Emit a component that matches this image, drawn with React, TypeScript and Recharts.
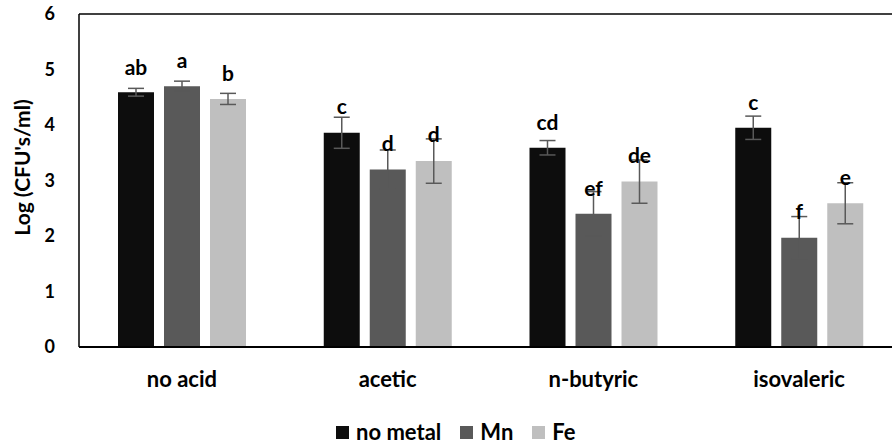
import { BarChart, Bar, XAxis, YAxis, ErrorBar, LabelList, Legend, ReferenceLine } from 'recharts';

const categories = ['no acid', 'acetic', 'n-butyric', 'isovaleric'];

const noMetal = [4.59, 3.86, 3.59, 3.95];
const mn = [4.70, 3.20, 2.40, 1.97];
const fe = [4.47, 3.35, 2.98, 2.59];

const noMetalErr = [0.07, 0.28, 0.13, 0.21];
const mnErr = [0.09, 0.35, 0.4, 0.38];
const feErr = [0.1, 0.4, 0.39, 0.37];

// significance letters and the height (in log units) where each sits
const noMetalLetters = ['ab', 'c', 'cd', 'c'];
const mnLetters = ['a', 'd', 'ef', 'f'];
const feLetters = ['b', 'd', 'de', 'e'];
const noMetalLetterAt = [4.90, 4.20, 3.91, 4.27];
const mnLetterAt = [5.03, 3.53, 2.72, 2.30];
const feLetterAt = [4.79, 3.69, 3.32, 2.91];

const yTicks = [0, 1, 2, 3, 4, 5, 6];

const series = [
    { key: 'noMetal', name: 'no metal', color: '#0d0d0d' },
    { key: 'mn', name: 'Mn', color: '#595959' },
    { key: 'fe', name: 'Fe', color: '#bfbfbf' },
];

const chartData = categories.map((cat, i) => ({
    cat,
    noMetal: noMetal[i],
    mn: mn[i],
    fe: fe[i],
    noMetalErr: noMetalErr[i],
    mnErr: mnErr[i],
    feErr: feErr[i],
}));

const FONT = 'Lato, "Open Sans", sans-serif';

function letterLabel(letters: string[], at: number[]) {
    return (props: any) => {
        const { x, y, width, height, value, index } = props;
        if (!value) return null;
        const pxPerUnit = height / value;
        const ly = y + height - at[index] * pxPerUnit;
        return (
            <text
                x={x + width / 2}
                y={ly}
                textAnchor="middle"
                fontFamily={FONT}
                fontWeight="bold"
                fontSize={21}
                fill="#000"
            >
                {letters[index]}
            </text>
        );
    };
}

function LegendContent() {
    return (
        <div style={{ display: 'flex', alignItems: 'center', fontFamily: FONT, fontWeight: 'bold', fontSize: 22, lineHeight: '22px', color: '#000' }}>
            {series.map((s) => (
                <div key={s.key} style={{ display: 'flex', alignItems: 'center', marginRight: 19 }}>
                    <span style={{ display: 'inline-block', width: 13, height: 13, background: s.color, marginRight: 7 }} />
                    <span>{s.name}</span>
                </div>
            ))}
        </div>
    );
}

export default function App() {
    return (
        <div style={{ position: 'absolute', left: 0, top: 0, width: 892, height: 445, overflow: 'hidden', background: '#fff' }}>
            <BarChart
                width={902}
                height={445}
                data={chartData}
                margin={{ top: 14, right: 0, bottom: 68, left: 0 }}
                barSize={36}
                barGap={10}
            >
                <XAxis
                    dataKey="cat"
                    axisLine={{ stroke: '#000', strokeWidth: 2 }}
                    tickLine={false}
                    tickMargin={18}
                    height={30}
                    tick={{ fill: '#000', fontFamily: FONT, fontWeight: 'bold', fontSize: 22 }}
                />
                <YAxis
                    domain={[0, 6]}
                    ticks={yTicks}
                    width={79}
                    axisLine={{ stroke: '#000', strokeWidth: 1.5 }}
                    tickLine={false}
                    tickMargin={18}
                    tick={{ fill: '#000', fontFamily: FONT, fontWeight: 'bold', fontSize: 18 }}
                    label={{
                        value: "Log (CFU's/ml)",
                        angle: -90,
                        position: 'insideLeft',
                        offset: 23,
                        dy: -13,
                        style: { textAnchor: 'middle', fill: '#000', fontFamily: FONT, fontWeight: 'bold', fontSize: 21 },
                    }}
                />
                <ReferenceLine y={6} stroke="#000" strokeWidth={1.5} />
                <Legend
                    verticalAlign="middle"
                    align="center"
                    wrapperStyle={{ top: 421, left: 336 }}
                    content={<LegendContent />}
                />
                <Bar dataKey="noMetal" name="no metal" fill="#0d0d0d" isAnimationActive={false}>
                    <ErrorBar dataKey="noMetalErr" width={8} stroke="#595959" strokeWidth={1.5} />
                    <LabelList dataKey="noMetal" content={letterLabel(noMetalLetters, noMetalLetterAt)} />
                </Bar>
                <Bar dataKey="mn" name="Mn" fill="#595959" isAnimationActive={false}>
                    <ErrorBar dataKey="mnErr" width={8} stroke="#595959" strokeWidth={1.5} />
                    <LabelList dataKey="mn" content={letterLabel(mnLetters, mnLetterAt)} />
                </Bar>
                <Bar dataKey="fe" name="Fe" fill="#bfbfbf" isAnimationActive={false}>
                    <ErrorBar dataKey="feErr" width={8} stroke="#595959" strokeWidth={1.5} />
                    <LabelList dataKey="fe" content={letterLabel(feLetters, feLetterAt)} />
                </Bar>
            </BarChart>
        </div>
    );
}
